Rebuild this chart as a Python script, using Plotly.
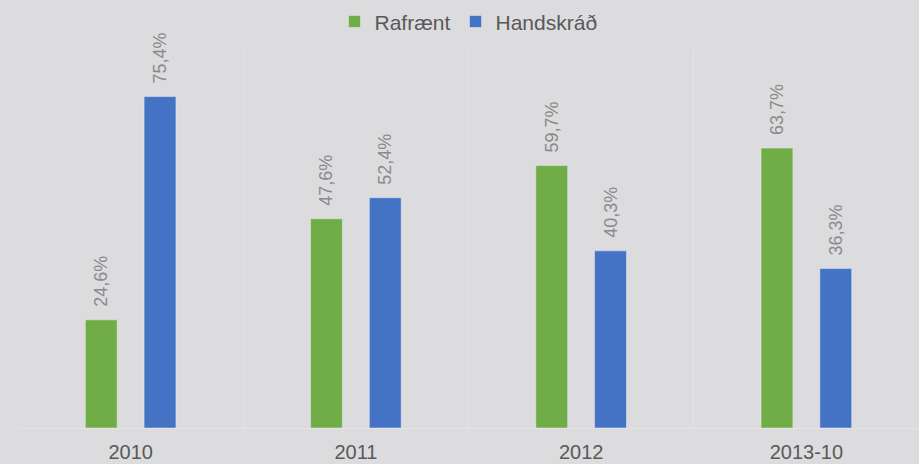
import plotly.graph_objects as go

categories = ["2010", "2011", "2012", "2013-10"]
rafraent = [24.6, 47.6, 59.7, 63.7]
handskrad = [75.4, 52.4, 40.3, 36.3]
series_names = ["Rafrænt", "Handskráð"]

def fmt(v):
    return "\u00a0\u00a0" + f"{v:.1f}".replace(".", ",") + "%"

BG = "#dcdcde"
GREEN = "#70ad47"
BLUE = "#4472c4"
FONT = "Liberation Sans"

fig = go.Figure()
for name, vals, col in [(series_names[0], rafraent, GREEN), (series_names[1], handskrad, BLUE)]:
    fig.add_trace(go.Bar(
        x=categories, y=vals, name=name, marker_color=col,
        text=[fmt(v) for v in vals], textposition="outside", textangle=-90,
        constraintext="none",
        textfont=dict(family=FONT, size=18, color="#8a8a8a"),
        cliponaxis=False,
    ))

fig.update_layout(
    width=919, height=464,
    paper_bgcolor=BG, plot_bgcolor=BG,
    margin=dict(l=18, r=0, t=50, b=36, autoexpand=False),
    barmode="group", bargap=0.478, bargroupgap=0.458,
    showlegend=True,
    legend=dict(orientation="h", x=0.5, xanchor="center", yref="container", y=0.953, yanchor="middle",
                font=dict(family=FONT, size=21, color="#595959"), bgcolor="rgba(0,0,0,0)",
                itemwidth=30, traceorder="normal"),
    font=dict(family=FONT),
)
fig.update_xaxes(
    type="category", tickson="boundaries", showgrid=True, gridcolor="#e4e4e6", gridwidth=1,
    showline=True, linecolor="#e4e4e6", linewidth=1, automargin=False,
    ticks="", ticklabelstandoff=6,
    tickfont=dict(family=FONT, size=20, color="#595959"),
)
fig.update_yaxes(range=[0, 86], showgrid=False, zeroline=False, showticklabels=False, showline=False)

fig.write_html("out.html", config={"displayModeBar": False},
               post_script="document.body.style.margin='0';document.body.style.background='%s';" % BG)
